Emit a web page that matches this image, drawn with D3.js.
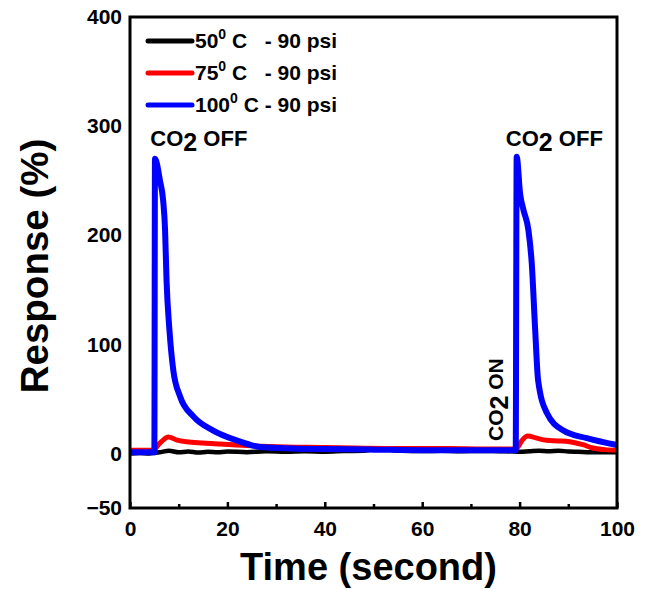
<!DOCTYPE html>
<html>
<head>
<meta charset="utf-8">
<script src="https://cdn.jsdelivr.net/npm/d3@7"></script>
<style>
  body { margin: 0; background: #fff; }
  svg text { font-family: "Liberation Sans", Arial, sans-serif; font-weight: bold; fill: #000; white-space: pre; }
</style>
</head>
<body>
<div id="chart"></div>
<script>
// data
var blueT = [0, 2, 4, 5.0, 5.13, 6.16, 6.8, 7.2, 7.5, 8.1, 8.9, 10.3, 13, 17.1, 21.9, 26.7, 32, 40, 50, 60, 70, 79.2,
             79.4, 80.1, 80.8, 81.8, 82.5, 83.2, 83.8, 85.6, 89, 93.8, 100];
var blueV = [1, 1, 1, 1, 270, 250, 232, 205, 159, 113, 76, 52, 34, 21, 12, 6, 4.8, 4, 3.5, 3, 3, 3,
             272, 238, 223, 205, 174, 113, 67, 37, 21, 14, 7.7];

var redT = [0, 3, 5.0, 5.3, 6.5, 7.9, 9.5, 11.6, 15, 18.5, 25, 32, 40, 45.8, 55, 66, 72, 79.2,
            79.5, 80.5, 81.7, 83.5, 85.5, 88, 90.3, 93, 95, 97.5, 100];
var redV = [3, 3, 3, 5, 11, 15, 12.5, 10.7, 9.5, 8.6, 7, 6, 5.5, 4.9, 4.5, 4.5, 4, 4,
            5, 12, 16, 14, 12, 11.5, 10.7, 8, 5, 3.5, 3];

var blackT = [0, 2, 4, 5, 6, 8, 10, 12, 14, 16, 18, 20, 24, 28, 32, 36, 40, 44, 48, 50, 52, 54, 56, 60, 64, 68, 72, 76, 79,
              80, 82, 84, 86, 88, 90, 92, 94, 96, 98, 100];
var blackV = [0, 0.5, 0, 0.5, 1, 2.5, 1, 1.8, 0.8, 1.5, 1, 1.8, 1.2, 2, 1.5, 2, 1.6, 2.2, 2.5, 3.5, 4, 3.2, 2.5, 2.2, 2.5, 2, 2.3, 2, 1.8,
              1.5, 2, 2.5, 2, 2.5, 1.8, 1.5, 1.2, 1, 1, 1];

var seriesNames = ["50", "75", "100"];
var seriesColors = ["#000000", "#ff0000", "#0000ff"];
var xTicks = [0, 20, 40, 60, 80, 100];
var xMinor = [10, 30, 50, 70, 90];
var yTicks = [-50, 0, 100, 200, 300, 400];

var width = 650, height = 589;
var margin = {top: 17, right: 33, bottom: 81, left: 130};
var Gwidth = width - margin.left - margin.right;
var Gheight = height - margin.top - margin.bottom;

var svg = d3.select('#chart').append('svg')
    .attr('width', width)
    .attr('height', height);

var topG = svg.append('g')
    .attr('transform', 'translate(' + margin.left + ',' + margin.top + ')');

var scaleX = d3.scaleLinear().domain([0, 100]).range([0, Gwidth]);
var scaleY = d3.scaleLinear().domain([-50, 400]).range([Gheight, 0]);

function toRows(ts, vs) {
  return ts.map(function(t, i) { return {t: t, v: vs[i]}; });
}

var line = d3.line()
    .x(d => scaleX(d.t))
    .y(d => scaleY(d.v))
    .curve(d3.curveMonotoneX);

var chartArea = topG.append('g');

var allSeries = [toRows(blackT, blackV), toRows(redT, redV), toRows(blueT, blueV)];
var widths = [4.5, 5, 6];

allSeries.forEach(function(rows, i) {
  chartArea.append('path')
    .datum(rows)
    .attr('d', line)
    .attr('fill', 'none')
    .attr('stroke', seriesColors[i])
    .attr('stroke-width', widths[i])
    .attr('stroke-linejoin', 'round');
});

// axes
var xAxis = topG.append('g')
    .attr('transform', 'translate(0,' + Gheight + ')')
    .call(d3.axisBottom(scaleX).tickValues(xTicks).tickSize(-6).tickPadding(13));
var xMinorAxis = topG.append('g')
    .attr('transform', 'translate(0,' + Gheight + ')')
    .call(d3.axisBottom(scaleX).tickValues(xMinor).tickSize(-4).tickFormat(''));
[xAxis, xMinorAxis].forEach(function(a) {
  a.select('.domain').remove();
  a.selectAll('line').attr('stroke', '#000').attr('stroke-width', 2.5);
});
xAxis.selectAll('text').style('font-size', '21px').attr('dy', '0.71em');

var yAxis = topG.append('g')
    .call(d3.axisLeft(scaleY).tickValues(yTicks).tickSize(0).tickPadding(8));
yAxis.select('.domain').remove();
yAxis.selectAll('text').style('font-size', '21px');

// frame
topG.append('rect')
    .attr('x', 0).attr('y', 0)
    .attr('width', Gwidth).attr('height', Gheight)
    .attr('fill', 'none')
    .attr('stroke', '#000')
    .attr('stroke-width', 3);

// axis titles
svg.append('text')
    .attr('x', margin.left + Gwidth / 2 - 5)
    .attr('y', 580)
    .style('font-size', '38px')
    .style('text-anchor', 'middle')
    .text('Time (second)');

svg.append('text')
    .attr('transform', 'translate(48,' + 266 + ') rotate(-90)')
    .style('font-size', '38.5px')
    .style('text-anchor', 'middle')
    .text('Response (%)');

// legend
var legend = topG.append('g').attr('transform', 'translate(18,24)');
var suffix = ['C   - 90 psi', 'C   - 90 psi', 'C - 90 psi'];
seriesNames.forEach(function(n, i) {
  var row = legend.append('g').attr('transform', 'translate(0,' + (i * 32) + ')');
  row.append('line')
    .attr('x1', 0).attr('x2', 44)
    .attr('stroke', seriesColors[i])
    .attr('stroke-width', 5)
    .attr('stroke-linecap', 'round');
  var t = row.append('text')
    .attr('x', 47)
    .attr('y', 7)
    .style('font-size', '21px');
  t.append('tspan').text(n);
  t.append('tspan').attr('dy', -9).style('font-size', '14px').text('0');
  t.append('tspan').attr('dy', 9).text(' ' + suffix[i]);
});

// annotations
function co2(g, label) {
  g.append('tspan').text('CO');
  g.append('tspan').attr('dy', 5).style('font-size', '25px').text('2');
  g.append('tspan').attr('dy', -5).text(' ' + label);
}
[5.2, 78.2].forEach(function(t, i) {
  var txt = topG.append('text')
    .attr('x', scaleX(t) - 5)
    .attr('y', 129)
    .style('font-size', '22px');
  co2(txt, 'OFF');
});

var onTxt = topG.append('text')
    .attr('transform', 'translate(' + (503 - margin.left) + ',' + 424 + ') rotate(-90)')
    .style('font-size', '21px');
co2(onTxt, 'ON');
</script>
</body>
</html>
